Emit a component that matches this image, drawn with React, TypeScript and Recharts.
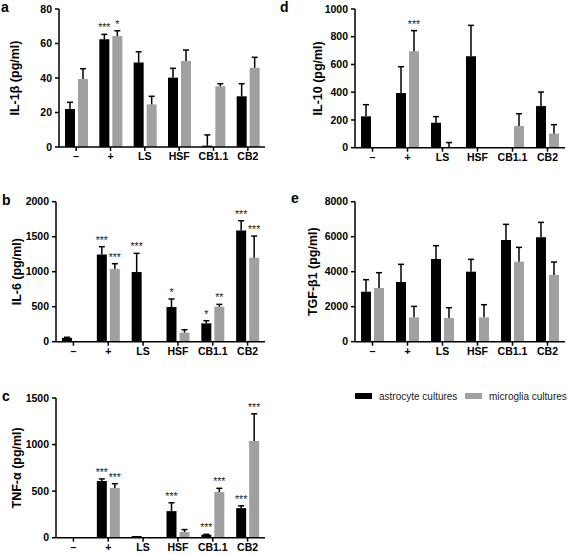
import { BarChart, Bar, XAxis, YAxis, ErrorBar, LabelList } from "recharts";

const categories = ["–", "+", "LS", "HSF", "CB1.1", "CB2"];

// a: IL-1β
const il1bAstro = [22, 62.4, 49, 40.2, 0.8, 29.4];
const il1bAstroSem = [3.9, 2.9, 6.2, 5.4, 6.2, 7.3];
const il1bAstroSig = ["", "***", "", "", "", ""];
const il1bMicro = [39.4, 64.3, 24.7, 49.9, 35.2, 46];
const il1bMicroSem = [6, 3.1, 4.7, 6.3, 1.5, 6];
const il1bMicroSig = ["", "*", "", "", "", ""];

// b: IL-6
const il6Astro = [55, 1247, 995, 495, 262, 1590];
const il6AstroSem = [8, 110, 267, 115, 38, 138];
const il6AstroSig = ["", "***", "***", "*", "*", "***"];
const il6Micro = [0, 1038, 0, 129, 500, 1200];
const il6MicroSem = [0, 76, 0, 42, 33, 309];
const il6MicroSig = ["", "***", "", "", "**", "***"];

// c: TNF-α
const tnfAstro = [3, 609, 18, 285, 32, 317];
const tnfAstroSem = [0, 22, 0, 90, 4, 25];
const tnfAstroSig = ["", "***", "", "***", "***", "***"];
const tnfMicro = [5, 534, 2, 61, 490, 1038];
const tnfMicroSem = [0, 46, 0, 26, 40, 292];
const tnfMicroSig = ["", "***", "", "", "***", "***"];

// d: IL-10
const il10Astro = [226, 394, 180, 659, 0, 300];
const il10AstroSem = [84, 190, 44, 223, 0, 101];
const il10AstroSig = ["", "", "", "", "", ""];
const il10Micro = [0, 695, 1, 0, 156, 101];
const il10MicroSem = [0, 149, 36, 0, 89, 65];
const il10MicroSig = ["", "***", "", "", "", ""];

// e: TGF-β1
const tgfAstro = [2857, 3410, 4724, 4000, 5810, 5962];
const tgfAstroSem = [686, 1010, 762, 705, 895, 857];
const tgfAstroSig = ["", "", "", "", "", ""];
const tgfMicro = [3067, 1390, 1352, 1390, 4572, 3810];
const tgfMicroSem = [876, 629, 591, 724, 819, 743];
const tgfMicroSig = ["", "", "", "", "", ""];

const il1bTicks = [0, 20, 40, 60, 80];
const il6Ticks = [0, 500, 1000, 1500, 2000];
const tnfTicks = [0, 500, 1000, 1500];
const il10Ticks = [0, 200, 400, 600, 800, 1000];
const tgfTicks = [0, 2000, 4000, 6000, 8000];

const FONT = "'Liberation Sans', Arial, Helvetica, sans-serif";
const GRAY = "#a0a0a0";

type Row = {
  cat: string;
  astro: number;
  astroSem: number;
  astroSig: string;
  micro: number;
  microSem: number;
  microSig: string;
};

function buildRows(
  astro: number[],
  astroSem: number[],
  astroSig: string[],
  micro: number[],
  microSem: number[],
  microSig: string[]
): Row[] {
  return categories.map((cat, i) => ({
    cat,
    astro: astro[i],
    astroSem: astroSem[i],
    astroSig: astroSig[i],
    micro: micro[i],
    microSem: microSem[i],
    microSig: microSig[i],
  }));
}

// stars sit just above the error bar cap; the label value is the category name
function starLabel(rows: Row[], series: "astro" | "micro") {
  return (props: any) => {
    const vb = props.viewBox ?? props;
    const x = Number(vb.x ?? props.x);
    const y = Number(vb.y ?? props.y);
    const w = Number(vb.width ?? props.width);
    const h = Number(vb.height ?? props.height);
    const row = rows.find((r) => r.cat === props.value);
    if (!row) return null;
    const sig = series === "astro" ? row.astroSig : row.microSig;
    if (!sig) return null;
    const value = row[series];
    const sem = series === "astro" ? row.astroSem : row.microSem;
    const capY = value > 0 ? y - (sem * Math.abs(h)) / value : y;
    return (
      <text
        x={x + w / 2}
        y={capY - 3}
        textAnchor="middle"
        fontSize={10.5}
        fill="#222"
        fontFamily={FONT}
      >
        {sig}
      </text>
    );
  };
}

interface PanelProps {
  rows: Row[];
  ticks: number[];
  title: string;
  left: number;
  top: number;
  width: number;
  height: number;
  plotTop: number;
  plotRight: number;
  axisWidth: number;
  titleX: number;
}

function Panel({ rows, ticks, title, left, top, width, height, plotTop, plotRight, axisWidth, titleX }: PanelProps) {
  const max = ticks[ticks.length - 1];
  const tickStyle = { fill: "#000", fontSize: 10.5, fontWeight: "bold", fontFamily: FONT };
  const axisStroke = { stroke: "#000", strokeWidth: 1.5 };
  const plotH = height - plotTop - 16;
  return (
    <div style={{ position: "absolute", left, top }}>
      <BarChart
        width={width}
        height={height}
        data={rows}
        margin={{ top: plotTop, right: width - plotRight, left: 0, bottom: 0 }}
        barSize={10}
        barGap={3}
      >
        <XAxis
          dataKey="cat"
          height={16}
          tick={tickStyle}
          axisLine={axisStroke}
          tickLine={axisStroke}
          tickSize={4}
          tickMargin={2}
          interval={0}
        />
        <YAxis
          width={axisWidth}
          domain={[0, max]}
          ticks={ticks}
          interval={0}
          tick={tickStyle}
          axisLine={axisStroke}
          tickLine={axisStroke}
          tickSize={4}
          tickMargin={3}
          label={{
            content: () => {
              const cy = plotTop + plotH / 2;
              return (
                <text
                  x={titleX}
                  y={cy}
                  dy="0.35em"
                  transform={`rotate(-90 ${titleX} ${cy})`}
                  textAnchor="middle"
                  fontSize={12.5}
                  fontWeight="bold"
                  fill="#000"
                  fontFamily={FONT}
                >
                  {title}
                </text>
              );
            },
          }}
        />
        <Bar dataKey="astro" fill="#000" isAnimationActive={false}>
          <ErrorBar
            dataKey={(d: Row) => (d.astroSem > 0 ? [0, d.astroSem] : null)}
            width={3}
            strokeWidth={1.5}
            stroke="#000"
            direction="y"
            isAnimationActive={false}
          />
          <LabelList dataKey={(d: Row) => d.cat} content={starLabel(rows, "astro")} />
        </Bar>
        <Bar dataKey="micro" fill={GRAY} isAnimationActive={false}>
          <ErrorBar
            dataKey={(d: Row) => (d.microSem > 0 ? [0, d.microSem] : null)}
            width={3}
            strokeWidth={1.5}
            stroke="#000"
            direction="y"
            isAnimationActive={false}
          />
          <LabelList dataKey={(d: Row) => d.cat} content={starLabel(rows, "micro")} />
        </Bar>
      </BarChart>
    </div>
  );
}

const il1bRows = buildRows(il1bAstro, il1bAstroSem, il1bAstroSig, il1bMicro, il1bMicroSem, il1bMicroSig);
const il6Rows = buildRows(il6Astro, il6AstroSem, il6AstroSig, il6Micro, il6MicroSem, il6MicroSig);
const tnfRows = buildRows(tnfAstro, tnfAstroSem, tnfAstroSig, tnfMicro, tnfMicroSem, tnfMicroSig);
const il10Rows = buildRows(il10Astro, il10AstroSem, il10AstroSig, il10Micro, il10MicroSem, il10MicroSig);
const tgfRows = buildRows(tgfAstro, tgfAstroSem, tgfAstroSig, tgfMicro, tgfMicroSem, tgfMicroSig);

export default function App() {
  const letter = { fontSize: 14, fontWeight: "bold" as const, fill: "#000", fontFamily: FONT };
  return (
    <div
      style={{
        position: "absolute",
        left: 0,
        top: 0,
        width: 567,
        height: 554,
        background: "#fff",
        fontFamily: FONT,
        overflow: "hidden",
      }}
    >
      <style>{".recharts-errorBar line:nth-of-type(3){display:none}"}</style>
      <Panel rows={il1bRows} ticks={il1bTicks} title="IL-1β (pg/ml)" left={0} top={0} width={270} height={163} plotTop={9} plotRight={265} axisWidth={59} titleX={15} />
      <Panel rows={il6Rows} ticks={il6Ticks} title="IL-6 (pg/ml)" left={0} top={180} width={270} height={177.7} plotTop={21.7} plotRight={265} axisWidth={56} titleX={17} />
      <Panel rows={tnfRows} ticks={tnfTicks} title="TNF-α (pg/ml)" left={0} top={370} width={270} height={183.7} plotTop={28} plotRight={265} axisWidth={56} titleX={17} />
      <Panel rows={il10Rows} ticks={il10Ticks} title="IL-10 (pg/ml)" left={280} top={0} width={287} height={163.7} plotTop={9} plotRight={285} axisWidth={75} titleX={38} />
      <Panel rows={tgfRows} ticks={tgfTicks} title="TGF-β1 (pg/ml)" left={280} top={180} width={287} height={177.7} plotTop={21.7} plotRight={285} axisWidth={75} titleX={33} />
      <svg width={567} height={554} style={{ position: "absolute", left: 0, top: 0, pointerEvents: "none" }}>
        <text x={1} y={12} {...letter}>a</text>
        <text x={2} y={205} {...letter}>b</text>
        <text x={2} y={401} {...letter}>c</text>
        <text x={280} y={12} {...letter}>d</text>
        <text x={291} y={203} {...letter}>e</text>
        <rect x={355} y={393} width={17} height={6} fill="#000" />
        <text x={379} y={400} fontSize={10} fill="#222" fontFamily={FONT}>astrocyte cultures</text>
        <rect x={465} y={393} width={17} height={6} fill={GRAY} />
        <text x={489} y={400} fontSize={10} fill="#222" fontFamily={FONT}>microglia cultures</text>
      </svg>
    </div>
  );
}
